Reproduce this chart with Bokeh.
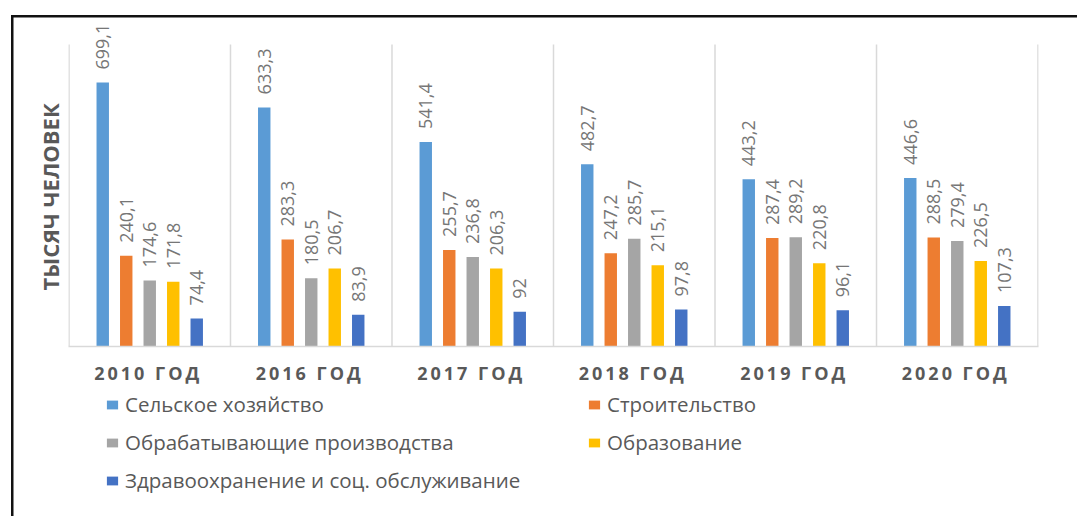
import math
from bokeh.plotting import figure
from bokeh.layouts import column
from bokeh.models import (Range1d, FixedTicker, Legend, LegendItem, ColumnDataSource, Title)
from bokeh.transform import dodge
from bokeh.core.properties import value
from bokeh.embed import file_html
from bokeh.resources import INLINE

# ---- data ----
categories = ["2010 ГОД", "2016 ГОД", "2017 ГОД", "2018 ГОД", "2019 ГОД", "2020 ГОД"]
series_names = ["Сельское хозяйство", "Строительство", "Обрабатывающие производства",
                "Образование", "Здравоохранение и соц. обслуживание"]
agriculture = [699.1, 633.3, 541.4, 482.7, 443.2, 446.6]
construction = [240.1, 283.3, 255.7, 247.2, 287.4, 288.5]
manufacturing = [174.6, 180.5, 236.8, 285.7, 289.2, 279.4]
education = [171.8, 206.7, 206.3, 215.1, 220.8, 226.5]
healthcare = [74.4, 83.9, 92, 97.8, 96.1, 107.3]
y_title = "ТЫСЯЧ ЧЕЛОВЕК"
y_max = 800

series_values = [agriculture, construction, manufacturing, education, healthcare]
colors = ["#5B9BD5", "#ED7D31", "#A5A5A5", "#FFC000", "#4472C4"]
TEXT = "#595959"
FONT = "Open Sans"
BORDER = "#111"

n = len(categories)
# frame top extended above the value axis maximum so rotated labels are not clipped
p = figure(width=1077, height=390, output_backend="svg", toolbar_location=None,
           x_range=Range1d(-0.003, n + 0.003), y_range=Range1d(0, 874),
           y_axis_location=None,
           min_border_left=68, min_border_right=39, min_border_top=16,
           min_border_bottom=44)
p.outline_line_color = None
p.background_fill_color = None
p.border_fill_color = None
p.xgrid.visible = False
p.ygrid.visible = False
p.styles = {
    "background": f"linear-gradient({BORDER},{BORDER}) 11px 15px / 1066px 2.5px no-repeat, "
                  f"linear-gradient({BORDER},{BORDER}) 11px 15px / 2.5px 400px no-repeat, white"
}

# category separators (vertical gridlines up to the axis maximum)
bounds = list(range(n + 1))
p.segment(x0=bounds, x1=bounds, y0=[0] * len(bounds), y1=[y_max] * len(bounds),
          line_color="#D9D9D9", line_width=1.5)

xs = [i + 0.5 for i in range(n)]
offsets = [-0.291, -0.1455, 0.0, 0.1455, 0.291]
sources = []
for name, vals, col, off in zip(series_names, series_values, colors, offsets):
    src = ColumnDataSource(dict(x=xs, top=vals,
                                lbl=[f"{v:g}".replace(".", ",") for v in vals]))
    sources.append(src)
    p.vbar(x=dodge("x", off, range=p.x_range), top="top", width=0.077,
           source=src, fill_color=col, line_color=None)
    p.text(x=dodge("x", off, range=p.x_range), y="top", text="lbl", source=src,
           angle=math.pi / 2, text_align="left", text_baseline="middle",
           y_offset=-13, text_font=value(FONT), text_font_size="18px",
           text_color="#767676")

def spaced(s):
    return "\u2009".join(list(s)) + "\u2009\u2009"

p.xaxis.ticker = FixedTicker(ticks=xs)
p.xaxis.major_label_overrides = {x: spaced(c) for x, c in zip(xs, categories)}
p.xaxis.major_tick_line_color = None
p.xaxis.minor_tick_line_color = None
p.xaxis.major_tick_out = 0
p.xaxis.axis_line_color = "#D9D9D9"
p.xaxis.axis_line_width = 1.5
p.xaxis.major_label_standoff = 14
p.xaxis.major_label_text_font = FONT
p.xaxis.major_label_text_font_style = "bold"
p.xaxis.major_label_text_font_size = "18px"
p.xaxis.major_label_text_color = TEXT

p.add_layout(Title(text=y_title, align="left", offset=56, standoff=8,
                   text_font=FONT, text_font_style="bold", text_font_size="22px",
                   text_color=TEXT), "left")

# ---- legend panel ----
q = figure(width=1077, height=126, output_backend="svg", toolbar_location=None,
           x_axis_location=None, y_axis_location=None,
           x_range=Range1d(0, 1), y_range=Range1d(0, 1),
           min_border_left=0, min_border_right=0, min_border_top=0, min_border_bottom=0)
q.outline_line_color = None
q.background_fill_color = None
q.border_fill_color = None
q.grid.visible = False
q.styles = {
    "background": f"linear-gradient({BORDER},{BORDER}) 11px 0px / 2.5px 126px no-repeat, white"
}
leg_r = [q.vbar(x="x", top="top", width=0.077, source=s, fill_color=c, line_color=None,
                visible=False) for s, c in zip(sources, colors)]

def make_legend(idx, loc):
    return Legend(items=[LegendItem(label=series_names[i], renderers=[leg_r[i]]) for i in idx],
                  location=loc, orientation="vertical", padding=0, margin=0,
                  border_line_color=None, background_fill_alpha=0,
                  glyph_width=14, glyph_height=11, label_standoff=6, spacing=10,
                  label_text_font=FONT, label_text_font_size="20.5px",
                  label_text_color=TEXT)

q.add_layout(make_legend([0, 2, 4], (37, 22)), "center")
q.add_layout(make_legend([1, 3], (519, 60)), "center")

open("out.html", "w").write(file_html(column(p, q), INLINE))
